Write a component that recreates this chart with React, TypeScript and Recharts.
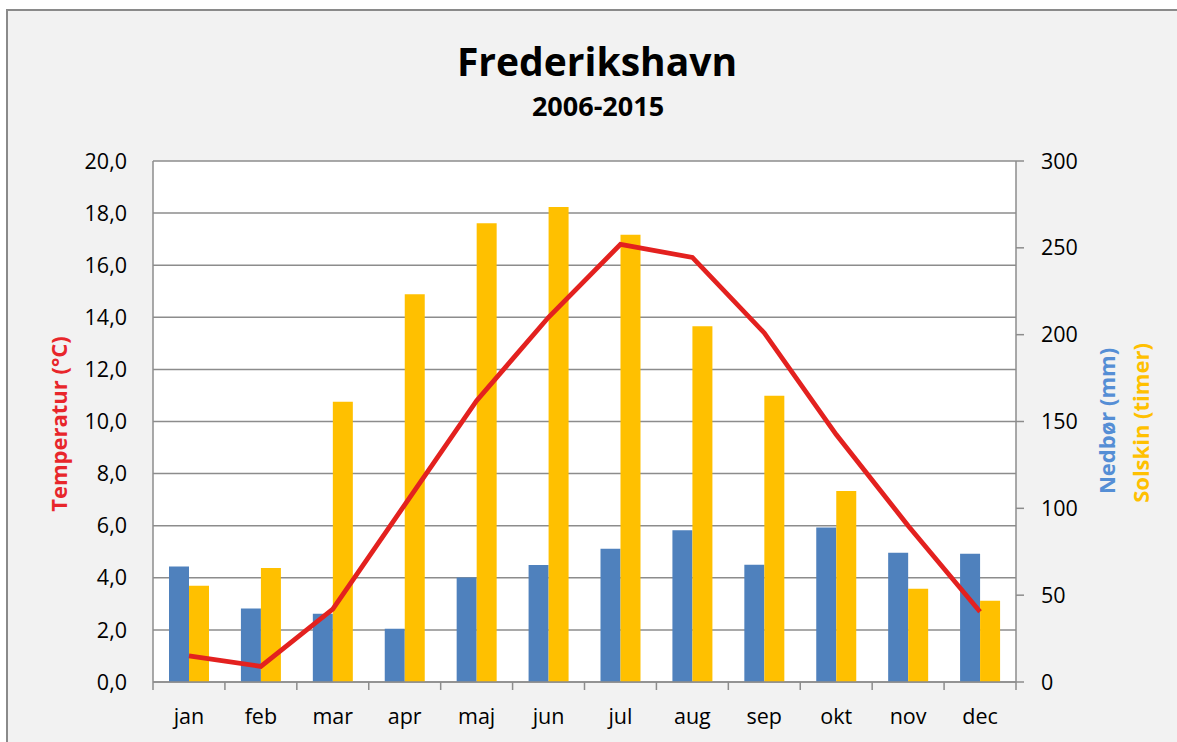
import React from 'react';
import { ComposedChart, Bar, Line, XAxis, YAxis, CartesianGrid } from 'recharts';

const months = ['jan', 'feb', 'mar', 'apr', 'maj', 'jun', 'jul', 'aug', 'sep', 'okt', 'nov', 'dec'];
const temperatur = [1.0, 0.6, 2.8, 6.8, 10.8, 14.0, 16.8, 16.3, 13.4, 9.5, 6.0, 2.7];
const nedboer = [66.5, 42.3, 39.3, 30.6, 60.2, 67.3, 76.7, 87.4, 67.5, 88.9, 74.4, 73.8];
const solskin = [55.4, 65.7, 161.4, 223.3, 264.1, 273.5, 257.6, 204.9, 164.8, 110, 53.7, 46.8];
const tempTicks = [0, 2, 4, 6, 8, 10, 12, 14, 16, 18, 20];
const rightTicks = [0, 50, 100, 150, 200, 250, 300];

const data = months.map((m, i) => ({
  month: m,
  temp: temperatur[i],
  nedbor: nedboer[i],
  sol: solskin[i],
}));

const W = 1177;
const H = 742;
const FONT = '"Open Sans", sans-serif';
const GRID = '#8c8c8c';

// plot area: left axis 153 wide, right axis 161 wide
const PLOT_W = W - 153 - 161;

// x tick: month label in the middle, tick marks on the category edges
const MonthTick = (props: any) => {
  const { x, y, payload, index } = props;
  const half = PLOT_W / months.length / 2;
  return (
    <g>
      <line x1={x - half} x2={x - half} y1={y} y2={y + 8} stroke={GRID} strokeWidth={1.5} />
      {index === months.length - 1 && (
        <line x1={x + half} x2={x + half} y1={y} y2={y + 8} stroke={GRID} strokeWidth={1.5} />
      )}
      <text x={x} y={y + 42} textAnchor="middle" fill="#000" fontSize={21.5} fontFamily={FONT}>
        {payload.value}
      </text>
    </g>
  );
};

const App: React.FC = () => {
  return (
    <div style={{ position: 'absolute', left: 0, top: 0, width: W, height: H, background: '#fff', overflow: 'hidden' }}>
      <div
        style={{
          position: 'absolute',
          left: 6,
          top: 9,
          right: -40,
          bottom: -40,
          background: '#f2f2f2',
          borderTop: '2px solid #8a8a8a',
          borderLeft: '2px solid #8a8a8a',
        }}
      />
      <div style={{ position: 'absolute', left: 0, top: 0 }}>
        <ComposedChart
          width={W}
          height={H}
          data={data}
          margin={{ top: 161, right: 0, left: 0, bottom: 0 }}
          barGap={0}
        >
          <CartesianGrid yAxisId="left" vertical={false} stroke={GRID} strokeWidth={1.5} fill="#fff" />
          <XAxis
            dataKey="month"
            height={60}
            tickLine={false}
            tickSize={0}
            tickMargin={0}
            axisLine={{ stroke: GRID, strokeWidth: 1.5 }}
            tick={<MonthTick />}
            interval={0}
          />
          <YAxis
            yAxisId="left"
            width={153}
            domain={[0, 20]}
            ticks={tempTicks}
            interval={0}
            tickFormatter={(v: number) => v.toFixed(1).replace('.', ',')}
            tickLine={false}
            tickSize={0}
            tickMargin={26}
            axisLine={{ stroke: GRID, strokeWidth: 1.5 }}
            tick={{ fill: '#000', fontSize: 21.5, fontFamily: FONT }}
          />
          <YAxis
            yAxisId="right"
            orientation="right"
            width={161}
            domain={[0, 300]}
            ticks={rightTicks}
            interval={0}
            tickSize={8}
            tickMargin={17}
            tickLine={{ stroke: GRID, strokeWidth: 1.5 }}
            axisLine={{ stroke: GRID, strokeWidth: 1.5 }}
            tick={{ fill: '#000', fontSize: 21.5, fontFamily: FONT }}
          />
          <Bar yAxisId="right" dataKey="nedbor" fill="#4f81bd" barSize={20} isAnimationActive={false} />
          <Bar yAxisId="right" dataKey="sol" fill="#ffc000" barSize={20} isAnimationActive={false} />
          <Line
            yAxisId="left"
            dataKey="temp"
            type="linear"
            stroke="#e3211f"
            strokeWidth={4.8}
            dot={false}
            activeDot={false}
            isAnimationActive={false}
          />
        </ComposedChart>
      </div>
      <svg
        width={W}
        height={H}
        style={{ position: 'absolute', left: 0, top: 0, pointerEvents: 'none' }}
        fontFamily={FONT}
      >
        <text x={597} y={76} textAnchor="middle" fontSize={39} fontWeight="bold" fill="#000">
          Frederikshavn
        </text>
        <text x={598} y={116} textAnchor="middle" fontSize={27} fontWeight="bold" fill="#000">
          2006-2015
        </text>
        <text
          x={0}
          y={0}
          transform="translate(67,424) rotate(-90)"
          textAnchor="middle"
          fontSize={22}
          fontWeight="bold"
          fill="#e8262b"
        >
          Temperatur (°C)
        </text>
        <text
          x={0}
          y={0}
          transform="translate(1115,421) rotate(-90)"
          textAnchor="middle"
          fontSize={22}
          fontWeight="bold"
          fill="#558ed5"
        >
          Nedbør (mm)
        </text>
        <text
          x={0}
          y={0}
          transform="translate(1149,423) rotate(-90)"
          textAnchor="middle"
          fontSize={22}
          fontWeight="bold"
          fill="#ffc000"
        >
          Solskin (timer)
        </text>
      </svg>
    </div>
  );
};

export default App;
